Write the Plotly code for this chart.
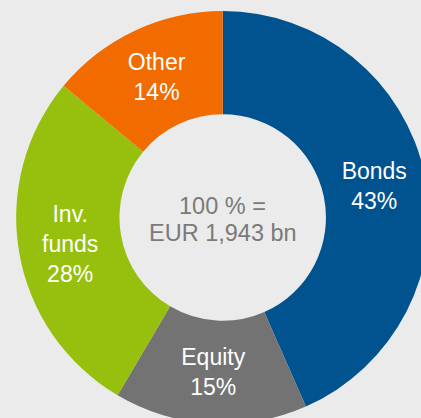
import plotly.graph_objects as go

# portfolio split, shares in percent
categories = ["Bonds", "Equity", "Inv.<br>funds", "Other"]
shares = [43.4, 15.1, 27.5, 14.0]
share_labels = ["43%", "15%", "28%", "14%"]
colors = ["#00538F", "#737373", "#97BF0D", "#F26B00"]
center_lines = ["100 % =", "EUR 1,943 bn"]

# the ring is a bit larger than the window, so the page is oversized and clipped
W, H = 430, 425
cx, cy, R = 222.7, 217.5, 206.5
font_family = "Liberation Sans, Arial"

fig = go.Figure(go.Pie(
    labels=categories,
    values=shares,
    text=share_labels,
    texttemplate="%{label}<br>%{text}",
    textinfo="text",
    textposition="inside",
    insidetextorientation="horizontal",
    insidetextfont=dict(color="white", size=23, family=font_family),
    marker=dict(colors=colors, line=dict(width=0)),
    hole=0.5,
    sort=False,
    direction="clockwise",
    rotation=0,
    showlegend=False,
    hoverinfo="skip",
    domain=dict(x=[(cx - R) / W, (cx + R) / W], y=[(H - cy - R) / H, (H - cy + R) / H]),
))

fig.add_annotation(text=center_lines[0], x=cx / W, y=(H - cy + 12) / H, xref="paper", yref="paper",
                   showarrow=False, font=dict(size=23.5, color="#7A7A7A", family=font_family))
fig.add_annotation(text=center_lines[1], x=cx / W, y=(H - cy - 15) / H, xref="paper", yref="paper",
                   showarrow=False, font=dict(size=23.5, color="#7A7A7A", family=font_family))

fig.update_layout(
    width=W, height=H,
    margin=dict(l=0, r=0, t=0, b=0),
    paper_bgcolor="#EBEBEB",
    plot_bgcolor="#EBEBEB",
)

page_fix = ("document.body.style.margin='0';"
            "document.body.style.overflow='hidden';"
            "document.documentElement.style.overflow='hidden';")
fig.write_html("out.html", post_script=page_fix, config={"displayModeBar": False, "staticPlot": True})
